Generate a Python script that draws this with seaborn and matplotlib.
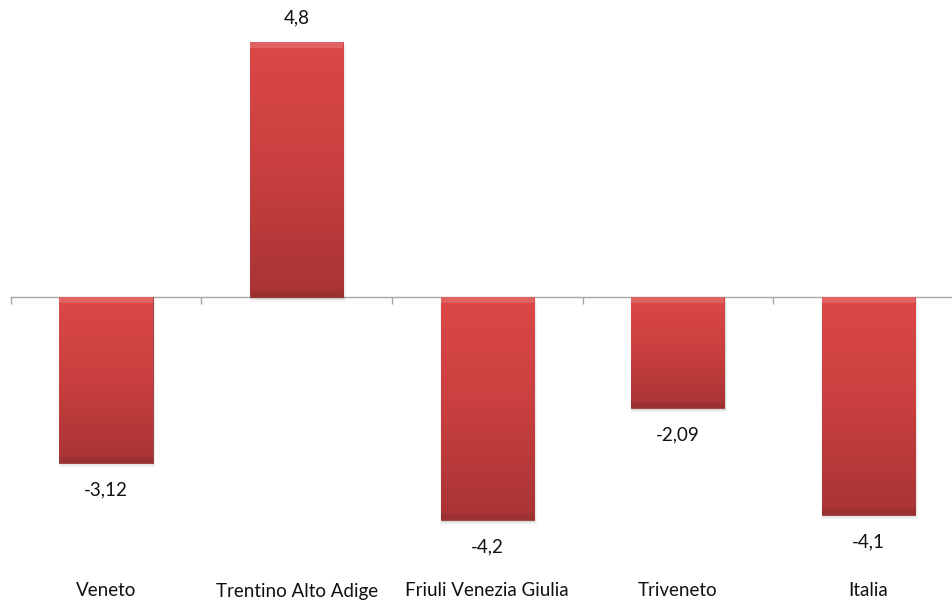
import numpy as np
import pandas as pd
import matplotlib
matplotlib.use("Agg")
import matplotlib.pyplot as plt
import matplotlib.transforms as mtransforms
from matplotlib.colors import LinearSegmentedColormap
from matplotlib.patches import Rectangle
import seaborn as sns

categories = ["Veneto", "Trentino Alto Adige", "Friuli Venezia Giulia", "Triveneto", "Italia"]
values = [-3.12, 4.8, -4.2, -2.09, -4.1]
value_labels = ["-3,12", "4,8", "-4,2", "-2,09", "-4,1"]

sns.set_theme(style="white")
plt.rcParams["font.family"] = ["Lato", "DejaVu Sans"]

W, H = 952, 600
cat_px = 190.6
fig = plt.figure(figsize=(W / 100, H / 100), dpi=100)
# axes spans 5 category slots starting 10.7px from left; it runs past the right edge
ax = fig.add_axes([10.7 / W, 0, 5 * cat_px / W, 1])

df = pd.DataFrame({"cat": categories, "val": values})
sns.barplot(data=df, x="cat", y="val", color="#D04040", width=0.49, ax=ax,
            saturation=1, zorder=3)

px_per_unit = 53.1

cmap = LinearSegmentedColormap.from_list("bar", ["#DC4848", "#C93F3F", "#A83434"])
for p in ax.patches:
    x0, y0 = p.get_x(), p.get_y()
    w, h = p.get_width(), p.get_height()
    ybot, ytop = min(y0, y0 + h), max(y0, y0 + h)
    # soft shadow
    for k, a in enumerate([0.07, 0.05, 0.04]):
        off = (k + 1) * 0.03
        ax.add_patch(Rectangle((x0 + 0.006 - 0.004 * k, ybot - off), w + 0.008 * k, ytop - ybot,
                               facecolor="black", alpha=a, edgecolor="none", zorder=2))
    p.set_facecolor("none")
    p.set_edgecolor("#962E2E")
    p.set_linewidth(0.6)
    grad = np.linspace(0, 1, 256).reshape(-1, 1)
    im = ax.imshow(grad, cmap=cmap, aspect="auto", extent=(x0, x0 + w, ybot, ytop),
                   origin="upper", zorder=3, interpolation="bilinear")
    im.set_clip_path(p)
    bev = 0.11
    ax.add_patch(Rectangle((x0, ytop - bev), w, bev, facecolor="white", alpha=0.15,
                           edgecolor="none", zorder=4))
    ax.add_patch(Rectangle((x0, ybot), w, bev, facecolor="black", alpha=0.07,
                           edgecolor="none", zorder=4))

ax.set_xlim(-0.5, len(categories) - 0.5)
ax.set_ylim(-(H - 297) / px_per_unit, 297 / px_per_unit)

for i, (v, lab) in enumerate(zip(values, value_labels)):
    off = 24 / px_per_unit if v > 0 else -27 / px_per_unit
    ax.text(i, v + off, lab, ha="center", va="center", fontsize=13.5, color="#111111", zorder=5)

trans = mtransforms.blended_transform_factory(ax.transData, fig.transFigure)
for i, c in enumerate(categories):
    ax.text(i, 1 - 591 / H, c, ha="center", va="center", fontsize=13.5, color="#111111",
            transform=trans)

for s in ["left", "right", "top"]:
    ax.spines[s].set_visible(False)
ax.spines["bottom"].set_position(("data", 0))
ax.spines["bottom"].set_color("#A6A6A6")
ax.spines["bottom"].set_linewidth(1.0)
ax.spines["bottom"].set_zorder(1)
ax.set_xticks(np.arange(len(categories) + 1) - 0.5)
ax.set_xticklabels([])
ax.tick_params(axis="x", direction="out", length=5, color="#A6A6A6", width=1, bottom=True)
ax.set_yticks([])
ax.set_xlabel("")
ax.set_ylabel("")
ax.patch.set_alpha(0)

fig.savefig("out.png", dpi=100, facecolor="white")
